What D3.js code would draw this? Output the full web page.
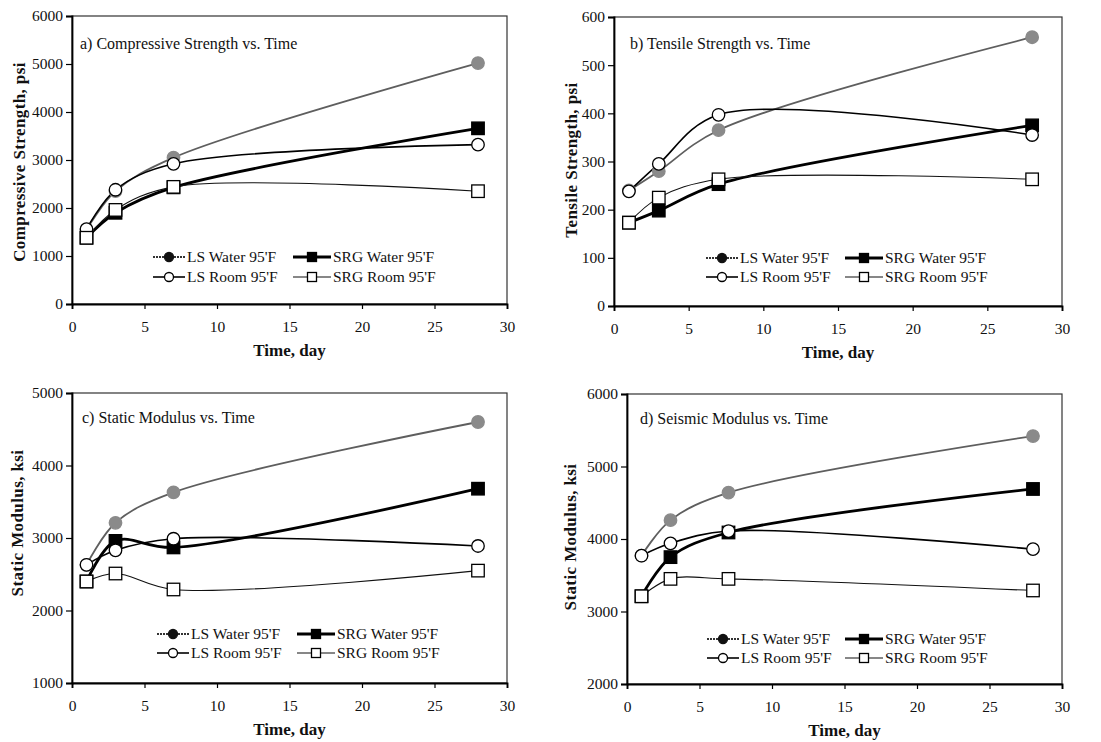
<!DOCTYPE html>
<html>
<head>
<meta charset="utf-8">
<script src="https://cdn.jsdelivr.net/npm/d3@7"></script>
<style>
  body { margin: 0; background: #fff; }
  svg text { font-family: "Liberation Serif", "Times New Roman", serif; fill: #111; }
</style>
</head>
<body>
<div id="chart"></div>
<script>
(function(){

// time in days
var days = [1, 3, 7, 28];
var seriesNames = ["LS Water 95'F", "SRG Water 95'F", "LS Room 95'F", "SRG Room 95'F"];
var xTicks = [0, 5, 10, 15, 20, 25, 30];

// a) compressive strength, psi
var compLSWater  = [1550, 2350, 3050, 5020];
var compSRGWater = [1380, 1900, 2430, 3660];
var compLSRoom   = [1560, 2380, 2920, 3320];
var compSRGRoom  = [1380, 1960, 2440, 2350];
var compTicks = [0, 1000, 2000, 3000, 4000, 5000, 6000];

// b) tensile strength, psi
var tensLSWater  = [240, 280, 365, 558];
var tensSRGWater = [173, 198, 253, 375];
var tensLSRoom   = [238, 295, 397, 355];
var tensSRGRoom  = [173, 225, 263, 263];
var tensTicks = [0, 100, 200, 300, 400, 500, 600];

// c) static modulus, ksi
var statLSWater  = [2630, 3210, 3630, 4600];
var statSRGWater = [2400, 2960, 2870, 3680];
var statLSRoom   = [2630, 2830, 2990, 2890];
var statSRGRoom  = [2400, 2510, 2290, 2550];
var statTicks = [1000, 2000, 3000, 4000, 5000];

// d) seismic modulus, ksi
var seisLSWater  = [3770, 4260, 4640, 5420];
var seisSRGWater = [3210, 3750, 4090, 4690];
var seisLSRoom   = [3770, 3940, 4110, 3860];
var seisSRGRoom  = [3210, 3450, 3450, 3290];
var seisTicks = [2000, 3000, 4000, 5000, 6000];

var serif = "'Liberation Serif', 'Times New Roman', serif";

var svg = d3.select("#chart")
  .append("svg")
    .attr("width", 1101)
    .attr("height", 742)
    .attr("font-family", serif);

// line / marker style per series (same order as seriesNames)
var styles = [
  {stroke: "#5e5e5e", width: 1.8, marker: "circle", fill: "#8a8a8a", mstroke: "#8a8a8a"},
  {stroke: "#000", width: 2.8, marker: "square", fill: "#000", mstroke: "#000"},
  {stroke: "#000", width: 1.6, marker: "circle", fill: "#fff", mstroke: "#000"},
  {stroke: "#111", width: 1.1, marker: "square", fill: "#fff", mstroke: "#000"}
];

var panels = [
  {left: 72, top: 16, right: 507, bottom: 304, ticks: compTicks,
   series: [compLSWater, compSRGWater, compLSRoom, compSRGRoom],
   title: "a) Compressive Strength vs. Time", titleX: 80, titleY: 49,
   yTitle: "Compressive Strength, psi", yTitleX: 25, yTitleY: 162,
   legX: [153, 293], legY: [257, 277]},
  {left: 614, top: 17, right: 1062, bottom: 306, ticks: tensTicks,
   series: [tensLSWater, tensSRGWater, tensLSRoom, tensSRGRoom],
   title: "b) Tensile Strength vs. Time", titleX: 630, titleY: 49,
   yTitle: "Tensile Strength, psi", yTitleX: 577, yTitleY: 160,
   legX: [706, 845], legY: [258, 277]},
  {left: 72, top: 393, right: 507, bottom: 683, ticks: statTicks,
   series: [statLSWater, statSRGWater, statLSRoom, statSRGRoom],
   title: "c) Static Modulus vs. Time", titleX: 82, titleY: 423,
   yTitle: "Static Modulus, ksi", yTitleX: 23, yTitleY: 523,
   legX: [157, 297], legY: [634, 653]},
  {left: 627, top: 394, right: 1062, bottom: 684, ticks: seisTicks,
   series: [seisLSWater, seisSRGWater, seisLSRoom, seisSRGRoom],
   title: "d) Seismic Modulus vs. Time", titleX: 640, titleY: 424,
   yTitle: "Static Modulus, ksi", yTitleX: 576, yTitleY: 537,
   legX: [707, 845], legY: [639, 658]}
];

panels.forEach(drawPanel);

function drawMarker(g, kind, x, y, st, size) {
  if (kind == "circle") {
    g.append("circle")
      .attr("cx", x).attr("cy", y).attr("r", size / 2)
      .style("fill", st.fill)
      .style("stroke", st.mstroke)
      .style("stroke-width", 1.3);
  } else {
    g.append("rect")
      .attr("x", x - size / 2).attr("y", y - size / 2)
      .attr("width", size).attr("height", size)
      .style("fill", st.fill)
      .style("stroke", st.mstroke)
      .style("stroke-width", 1.3);
  }
}

function drawPanel(p) {
  var x = d3.scaleLinear().domain([0, 30]).range([p.left, p.right]);
  var y = d3.scaleLinear()
    .domain([p.ticks[0], p.ticks[p.ticks.length - 1]])
    .range([p.bottom, p.top]);

  var g = svg.append("g");

  // plot frame
  g.append("rect")
    .attr("x", p.left).attr("y", p.top)
    .attr("width", p.right - p.left)
    .attr("height", p.bottom - p.top)
    .style("fill", "none")
    .style("stroke", "#333")
    .style("stroke-width", 1.2);

  var yAxis = g.append("g")
    .attr("transform", "translate(" + p.left + ",0)")
    .call(d3.axisLeft(y).tickValues(p.ticks).tickSize(6).tickPadding(3).tickFormat(d3.format("d")));
  var xAxis = g.append("g")
    .attr("transform", "translate(0," + p.bottom + ")")
    .call(d3.axisBottom(x).tickValues(xTicks).tickSize(5).tickPadding(12));

  [yAxis, xAxis].forEach(function(a){
    a.attr("font-family", serif).attr("font-size", 15);
    a.select(".domain").style("stroke", "#000").style("stroke-width", 1.8);
    a.selectAll(".tick line").style("stroke", "#000").style("stroke-width", 1.2);
    a.selectAll("text")
      .style("font-family", serif)
      .style("font-size", "15.5px")
      .style("fill", "#111");
  });

  // panel title
  g.append("text")
    .attr("x", p.titleX)
    .attr("y", p.titleY)
    .text(p.title)
    .attr("font-size", "16px");

  // axis titles
  g.append("text")
    .attr("transform", "translate(" + p.yTitleX + "," + p.yTitleY + ") rotate(-90)")
    .attr("text-anchor", "middle")
    .attr("font-size", "17px")
    .attr("font-weight", "bold")
    .attr("letter-spacing", "0.4px")
    .text(p.yTitle);
  g.append("text")
    .attr("x", (p.left + p.right) / 2)
    .attr("y", p.bottom + 52)
    .attr("text-anchor", "middle")
    .attr("font-size", "17px")
    .attr("font-weight", "bold")
    .text("Time, day");

  // smoothed lines
  var line = d3.line()
    .x(function(d, i){ return x(days[i]); })
    .y(function(d){ return y(d); })
    .curve(d3.curveCatmullRom.alpha(0.5));

  p.series.forEach(function(vals, s){
    var st = styles[s];
    g.append("path")
      .attr("d", line(vals))
      .style("fill", "none")
      .style("stroke", st.stroke)
      .style("stroke-width", st.width);
  });
  p.series.forEach(function(vals, s){
    vals.forEach(function(v, i){
      drawMarker(g, styles[s].marker, x(days[i]), y(v), styles[s], 12.5);
    });
  });

  // legend, 2 x 2
  seriesNames.forEach(function(name, s){
    var col = s % 2, row = Math.floor(s / 2);
    var lx = p.legX[col], ly = p.legY[row];
    var lw = col == 0 ? 32 : 38;
    var st = styles[s];
    g.append("line")
      .attr("x1", lx).attr("x2", lx + lw)
      .attr("y1", ly).attr("y2", ly)
      .style("stroke", s == 0 ? "#333" : st.stroke)
      .style("stroke-width", st.width)
      .style("stroke-dasharray", s == 0 ? "2,1" : null);
    var mst = s == 0 ? {fill: "#111", mstroke: "#111"} : st;
    drawMarker(g, st.marker, lx + lw / 2, ly, mst, 9);
    g.append("text")
      .attr("x", lx + lw + 2)
      .attr("y", ly + 5)
      .attr("font-size", "15.5px")
      .text(name);
  });
}

})();
</script>
</body>
</html>
